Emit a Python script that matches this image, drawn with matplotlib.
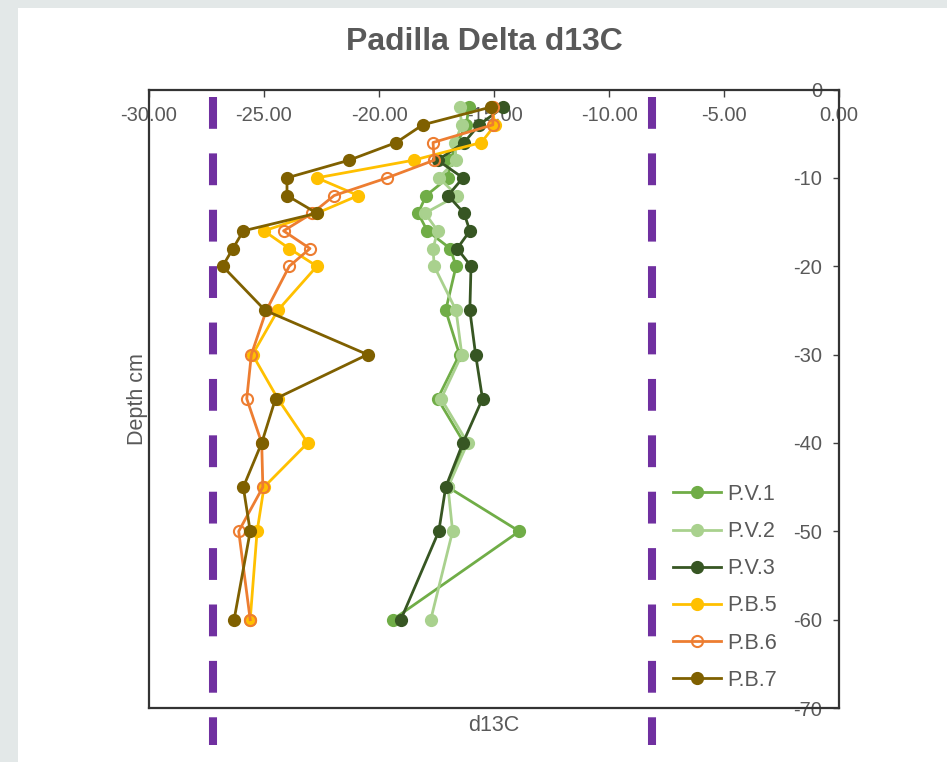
import matplotlib.pyplot as plt
from matplotlib.patches import Rectangle
from matplotlib.ticker import FormatStrFormatter

plt.rcParams['font.family'] = ['Liberation Sans', 'DejaVu Sans']
plt.rcParams['axes.unicode_minus'] = False

# depth (cm, negative downwards) and d13C values
depth = [-2, -4, -6, -8, -10, -12, -14, -16, -18, -20, -25, -30, -35, -40, -45, -50, -60]

pv1 = [-16.1, -16.2, -16.6, -16.9, -17.0, -17.95, -18.3, -17.9, -16.9, -16.65,
       -17.1, -16.5, -17.45, -16.3, -17.0, -13.9, -19.4]
pv2 = [-16.5, -16.4, -16.7, -16.65, -17.4, -16.6, -18.0, -17.45, -17.65, -17.6,
       -16.65, -16.4, -17.3, -16.15, -17.0, -16.8, -17.75]
pv3 = [-14.6, -15.65, -16.3, -17.45, -16.35, -17.0, -16.3, -16.05, -16.6, -16.0,
       -16.05, -15.8, -15.5, -16.35, -17.1, -17.4, -19.05]
pb5 = [-15.1, -14.95, -15.55, -18.5, -22.7, -20.9, -22.7, -25.0, -23.9, -22.7,
       -24.4, -25.5, -24.4, -23.1, -25.0, -25.3, -25.6]
pb6 = [-15.05, -15.05, -17.65, -17.6, -19.65, -21.95, -22.9, -24.15, -23.0, -23.9,
       -24.9, -25.55, -25.75, -25.1, -25.05, -26.1, -25.6]
pb7 = [-15.15, -18.1, -19.25, -21.3, -24.0, -24.0, -22.7, -25.9, -26.35, -26.8,
       -24.95, -20.5, -24.5, -25.1, -25.9, -25.6, -26.3]

series_names = ['P.V.1', 'P.V.2', 'P.V.3', 'P.B.5', 'P.B.6', 'P.B.7']
series_colors = ['#70ad47', '#a9d18e', '#375623', '#ffc000', '#ed7d31', '#7f6000']

# purple reference limits
limits = [-27.2, -8.15]

xticks = list(range(-30, 1, 5))
yticks = list(range(-70, 1, 10))

fig = plt.figure(figsize=(9.47, 7.62), dpi=100, facecolor='#e3e8e8')
fig.patches.append(Rectangle((18 / 947, 0), 1, 1 - 8 / 762, transform=fig.transFigure,
                             facecolor='white', edgecolor='none', zorder=-10))

ax = fig.add_axes([149 / 947, 1 - 708 / 762, (839 - 149) / 947, (708 - 89.5) / 762])

for vals, name, col in zip([pv1, pv2, pv3, pb5, pb6, pb7], series_names, series_colors):
    mfc = 'none' if name == 'P.B.6' else col
    ax.plot(vals, depth, '-o', color=col, mfc=mfc, mec=col, mew=1.5, ms=8, lw=2, label=name)

for xv in limits:
    ax.plot([xv, xv], [-0.8, -74.2], color='#7030a0', lw=5.8, ls=(0, (3.95, 3.05)),
            solid_capstyle='butt', dash_capstyle='butt', clip_on=False, zorder=5)

ax.set_xlim(-30, 0)
ax.set_ylim(-70, 0)
ax.set_xticks(xticks)
ax.set_yticks(yticks)
ax.xaxis.set_major_formatter(FormatStrFormatter('%.2f'))
ax.yaxis.set_major_formatter(FormatStrFormatter('%d'))

ax.xaxis.set_ticks_position('top')
ax.tick_params(axis='x', direction='in', length=5, width=1, color='#404040',
               labelcolor='#595959', labelsize=14.5, pad=-12)
for t in ax.xaxis.get_major_ticks():
    t.label2.set_va('top')

ax.yaxis.set_ticks_position('right')
ax.tick_params(axis='y', direction='in', length=4, width=1, color='#404040',
               labelcolor='#595959', labelsize=14.5, pad=-12)
for t in ax.yaxis.get_major_ticks():
    t.label2.set_ha('right')

for s in ax.spines.values():
    s.set_color('#333333')
    s.set_linewidth(1.6)

ax.yaxis.set_label_position('left')
ax.set_ylabel('Depth cm', fontsize=15.5, color='#595959', labelpad=1)
ax.set_xlabel('d13C', fontsize=15.5, color='#595959', labelpad=5)

fig.text(484 / 947, 1 - 42 / 762, 'Padilla Delta d13C', ha='center', va='center',
         fontsize=23, fontweight='bold', color='#595959')

ax.legend(loc='upper left', bbox_to_anchor=(673 / 947, 1 - 484 / 762),
          bbox_transform=fig.transFigure, frameon=False, fontsize=15.5,
          handlelength=2.25, handletextpad=0.25, labelspacing=0.75,
          borderpad=0, borderaxespad=0, labelcolor='#595959')

fig.savefig('out.png', dpi=100, facecolor=fig.get_facecolor())
